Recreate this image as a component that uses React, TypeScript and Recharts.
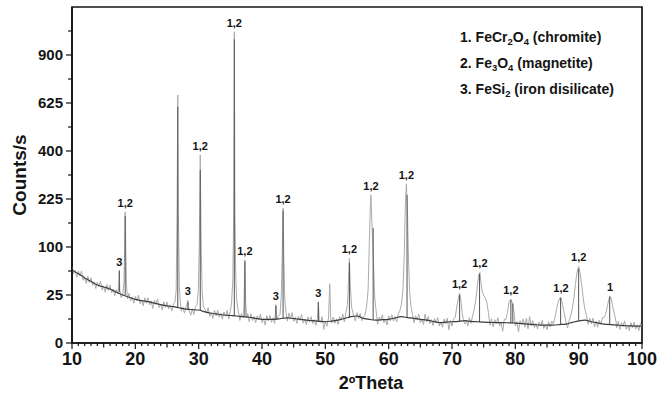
import { Line, LineChart, ReferenceArea, ReferenceDot, ReferenceLine, XAxis, YAxis } from "recharts";

// measured pattern, [2theta, counts/s]
const scan: [number, number][] = [
  [10, 64.3], [10.25, 52.1], [10.5, 57.3], [10.75, 47.1], [11, 56.4], [11.25, 49], [11.5, 56.3], [11.75, 42.8],
  [12, 46.6], [12.25, 38.3], [12.5, 48.2], [12.75, 39.7], [13, 46.2], [13.25, 36.1], [13.5, 40.6], [13.75, 32.3],
  [14, 40.2], [14.25, 34.7], [14.5, 41.5], [14.75, 30.6], [15, 34.6], [15.25, 27.9], [15.5, 37], [15.75, 29.9],
  [16, 36.2], [16.25, 27.5], [16.5, 31.5], [16.75, 24.2], [17, 31.2], [17.25, 26.2], [17.4, 36], [17.47, 57],
  [17.55, 30], [17.75, 22.3], [18, 25.5], [18.2, 40], [18.3, 90], [18.4, 187], [18.5, 95], [18.6, 38],
  [18.75, 21.3], [19, 26.6], [19.25, 19.4], [19.5, 23.1], [19.75, 17.2], [20, 23.5], [20.25, 19.5], [20.5, 24.9],
  [20.75, 16.8], [21, 20], [21.25, 15.1], [21.5, 22.2], [21.75, 17.1], [22, 22.1], [22.25, 15.7], [22.5, 19.2],
  [22.75, 12.9], [23, 19.8], [23.25, 16.1], [23.5, 21], [23.75, 13.6], [24, 16.4], [24.25, 12], [24.5, 18.4],
  [24.75, 13.7], [25, 18.2], [25.25, 12.6], [25.5, 15.8], [25.75, 11.2], [26, 16.6], [26.25, 18], [26.45, 30],
  [26.6, 200], [26.7, 667], [26.8, 180], [26.95, 35], [27.1, 18], [27.25, 11], [27.5, 14], [27.75, 9.7],
  [28, 14.7], [28.15, 16], [28.3, 20], [28.45, 12], [28.75, 8.4], [29, 12.5], [29.25, 8.8], [29.5, 14.5],
  [29.75, 16], [29.95, 30], [30.1, 110], [30.25, 384], [30.4, 100], [30.55, 28], [30.75, 14], [31, 12.5],
  [31.25, 9.6], [31.5, 13.5], [31.75, 7.7], [32, 9.9], [32.25, 6.6], [32.5, 11.6], [32.75, 8], [33, 11.6],
  [33.25, 7.2], [33.5, 9.7], [33.75, 6.2], [34, 10.4], [34.25, 7.8], [34.5, 11.5], [34.75, 6.4], [35, 11],
  [35.2, 18], [35.4, 45], [35.52, 180], [35.63, 1051], [35.72, 200], [35.85, 50], [36, 20], [36.25, 11],
  [36.5, 5.5], [36.75, 9.4], [37, 7], [37.15, 14], [37.3, 75], [37.42, 18], [37.6, 7], [37.75, 9.3],
  [38, 4.8], [38.25, 9.3], [38.5, 5.4], [38.75, 7.6], [39, 4.5], [39.25, 8.1], [39.5, 5.9], [39.75, 9],
  [40, 4.5], [40.25, 6.4], [40.5, 3.5], [40.75, 8], [41, 5.2], [41.25, 8.2], [41.5, 4.7], [41.75, 6.9],
  [42, 4.1], [42.2, 16], [42.35, 6], [42.6, 7.8], [42.85, 9], [43.05, 25], [43.2, 90], [43.33, 197],
  [43.45, 80], [43.6, 20], [43.8, 10], [44, 5.2], [44.25, 9.7], [44.5, 6.2], [44.75, 10], [45, 5.1],
  [45.25, 7.2], [45.5, 4.2], [45.75, 7.8], [46, 5.6], [46.25, 8.7], [46.5, 4.3], [46.75, 6.1], [47, 3.6],
  [47.25, 7.4], [47.5, 4.7], [47.75, 7.5], [48, 4.1], [48.25, 6], [48.5, 3.4], [48.75, 6.6], [48.9, 18.5],
  [49.05, 5], [49.25, 4.6], [49.5, 7.5], [49.75, 2], [50, 5.1], [50.25, 3], [50.5, 6.8], [50.7, 38],
  [50.85, 6], [51, 4.3], [51.25, 7.3], [51.5, 4.2], [51.75, 6.3], [52, 3.8], [52.25, 7.5], [52.5, 5.6],
  [52.75, 9.1], [53, 4.8], [53.25, 10], [53.5, 16], [53.65, 40], [53.8, 78], [53.95, 35], [54.15, 14],
  [54.4, 9], [54.75, 5.2], [55, 10], [55.25, 6.5], [55.5, 9.5], [55.75, 5.4], [56, 7.4], [56.25, 8],
  [56.5, 14], [56.75, 30], [56.95, 110], [57.1, 200], [57.2, 238], [57.3, 180], [57.45, 120], [57.6, 70],
  [57.8, 22], [58, 12], [58.25, 3.8], [58.5, 7.3], [58.75, 5.4], [59, 8.6], [59.25, 4.4], [59.5, 6.3],
  [59.75, 3.5], [60, 8], [60.25, 5.3], [60.5, 8.6], [60.75, 5.2], [61, 7.6], [61.25, 4.8], [61.5, 8.9],
  [61.75, 11], [62, 16], [62.25, 30], [62.45, 80], [62.65, 220], [62.8, 275], [62.95, 200], [63.1, 90],
  [63.3, 30], [63.5, 15], [63.75, 9], [64, 4.5], [64.25, 8.1], [64.5, 5.9], [64.75, 9], [65, 4.5],
  [65.25, 6.3], [65.5, 3.7], [65.75, 9.1], [66, 4.8], [66.25, 7.6], [66.5, 4.1], [66.75, 6], [67, 3.3],
  [67.25, 6.4], [67.5, 4.4], [67.75, 7], [68, 3.1], [68.25, 4.8], [68.5, 2.7], [68.75, 6.3], [69, 3.9],
  [69.25, 6.7], [69.5, 1.9], [69.75, 5.5], [70, 3.1], [70.25, 6.4], [70.5, 7], [70.75, 14], [71, 22],
  [71.2, 27], [71.4, 20], [71.6, 10], [71.8, 6], [72, 3.9], [72.25, 5.5], [72.5, 3.2], [72.75, 6.9],
  [73, 4.2], [73.25, 8], [73.5, 12], [73.75, 20], [74, 35], [74.2, 50], [74.4, 54], [74.6, 38],
  [74.8, 28], [75, 25], [75.25, 22], [75.5, 18], [75.75, 10], [76, 3.4], [76.25, 6.4], [76.5, 2.8],
  [76.75, 5.9], [77, 4.1], [77.25, 6.9], [77.5, 3.1], [77.75, 4.7], [78, 1.5], [78.25, 6.1], [78.5, 6],
  [78.75, 10], [79, 18], [79.3, 21], [79.55, 17], [79.8, 10], [80, 3.1], [80.25, 4.9], [80.5, 1.3],
  [80.75, 5.4], [81, 3.7], [81.25, 6.3], [81.5, 2.7], [81.75, 6.7], [82, 2.2], [82.25, 7.6], [82.5, 3.1],
  [82.75, 5.4], [83, 2.6], [83.25, 4.2], [83.5, 2.1], [83.75, 4.8], [84, 3.1], [84.25, 5.6], [84.5, 2.3],
  [84.75, 3.7], [85, 1.9], [85.25, 4.9], [85.5, 2.8], [85.75, 5.2], [86, 4], [86.25, 7], [86.5, 12],
  [86.75, 18], [87, 22], [87.2, 22.7], [87.45, 16], [87.7, 10], [88, 5], [88.25, 2.4], [88.5, 5.5],
  [88.75, 8], [89, 13], [89.25, 22], [89.5, 38], [89.75, 55], [90, 64], [90.25, 52], [90.5, 35],
  [90.75, 20], [91, 12], [91.25, 8], [91.5, 3.8], [91.75, 6.6], [92, 4], [92.25, 6.7], [92.5, 2.8],
  [92.75, 5.2], [93, 2.7], [93.25, 5.6], [93.5, 3.8], [93.75, 7], [94, 7], [94.25, 9], [94.5, 14],
  [94.75, 20], [94.95, 24], [95.15, 21], [95.4, 14], [95.65, 9], [95.9, 5], [96, 2.5], [96.25, 5.1],
  [96.5, 2], [96.75, 4.5], [97, 3], [97.25, 5.3], [97.5, 2.1], [97.75, 3.4], [98, 1.7], [98.25, 4.5],
  [98.5, 2.5], [98.75, 4.7], [99, 2.1], [99.25, 3.6], [99.5, 1.7], [99.75, 4.2], [100, 2.8],
];

// fitted background curve
const background: [number, number][] = [
  [10, 58], [11, 52], [12, 46], [13, 41], [14, 36.5], [15, 34], [16, 31.6], [17, 28], [18, 25],
  [19, 22.7], [20, 20.7], [21, 19.5], [22, 18.5], [23, 17.2], [24, 16], [25, 15], [26, 14.3],
  [27, 13.3], [28, 12.5], [29, 12.1], [30, 11.8], [31, 10.5], [32, 9.6], [33, 9], [34, 8.5],
  [35, 8.2], [36, 7.9], [37, 7.5], [38, 7.2], [39, 6.6], [40, 6.1], [41, 6.1], [42, 6.1],
  [43, 6.5], [44, 6.9], [45, 6.5], [46, 6.1], [47, 5.7], [48, 5.4], [49, 5.1], [50, 4.9],
  [51, 5.2], [52, 5.7], [53, 6.5], [54, 7.5], [55, 7.9], [56, 6.6], [57, 6], [58, 5.7],
  [59, 5.9], [60, 6.1], [61, 6.8], [62, 7.5], [63, 7], [64, 6.6], [65, 6.1], [66, 5.7],
  [67, 5.1], [68, 4.5], [69, 4.7], [70, 4.9], [71, 5.1], [72, 5.4], [73, 5.1], [74, 4.9],
  [75, 4.7], [76, 4.6], [77, 4.5], [78, 4.5], [79, 4.4], [80, 4.3], [81, 4.1], [82, 3.9],
  [83, 3.7], [84, 3.5], [85, 3.5], [86, 3.5], [87, 3.7], [88, 3.9], [89, 4.6], [90, 5.3],
  [91, 5.7], [92, 4.9], [93, 4.4], [94, 3.9], [95, 3.7], [96, 3.5], [97, 3.3], [98, 3.2],
  [99, 3.1], [100, 3.1],
];

// peak markers: [2theta, base, top]
const sticks: [number, number, number][] = [
  [17.47, 28, 57], [18.4, 25, 175], [26.7, 14, 606], [28.3, 12.5, 18], [30.25, 11.5, 325],
  [35.63, 8, 1000], [37.3, 7.5, 72], [42.2, 6.1, 15], [43.33, 6.6, 190], [48.9, 5.1, 18],
  [53.8, 7.3, 70], [57.55, 5.9, 143], [62.9, 7.2, 238], [71.2, 5.1, 25], [74.35, 4.8, 52],
  [79.3, 4.4, 20], [79.6, 4.4, 17], [87.15, 3.7, 22], [90, 5.3, 60], [94.9, 3.7, 23],
];

const peakLabels: [number, number, string][] = [
  [17.47, 57, "3"], [18.4, 187, "1,2"], [28.3, 20, "3"], [30.25, 384, "1,2"], [35.63, 1051, "1,2"],
  [37.3, 75, "1,2"], [42.2, 16, "3"], [43.33, 197, "1,2"], [48.9, 18.5, "3"], [53.8, 78, "1,2"],
  [57.2, 238, "1,2"], [62.8, 275, "1,2"], [71.2, 27, "1,2"], [74.4, 54, "1,2"], [79.3, 21, "1,2"],
  [87.2, 22.7, "1,2"], [90, 64, "1,2"], [94.95, 24, "1"],
];

const yMajorTicks = [0, 25, 100, 225, 400, 625, 900];
const yMinorTicks = [6.25, 56.25, 156.25, 306.25, 506.25, 756.25, 1056.25];
const xLabelTicks = [10, 20, 30, 40, 50, 60, 70, 80, 90, 100];
const xTicks = Array.from({ length: 91 }, (_, i) => 10 + i);

const phases = [
  { num: "1.", parts: ["FeCr", "2", "O", "4", " (chromite)"] },
  { num: "2.", parts: ["Fe", "3", "O", "4", " (magnetite)"] },
  { num: "3.", parts: ["FeSi", "2", " (iron disilicate)"] },
];

const ink = "#141414";
const font = "Arial, 'Liberation Sans', Helvetica, sans-serif";

const scanRows = scan.map(([x, y]) => ({ x, y }));
const bgRows = background.map(([x, y]) => ({ x, y }));

function YTick({ x, y, payload }: any) {
  const major = yMajorTicks.includes(payload.value);
  return (
    <g>
      <line x1={x - (major ? 6 : 4)} x2={x} y1={y} y2={y} stroke={ink} strokeWidth={1.2} />
      {major && (
        <text x={x - 9} y={y + 5} textAnchor="end" fontSize={15} fontWeight="bold" fill={ink} fontFamily={font}>
          {payload.value}
        </text>
      )}
    </g>
  );
}

function XTick({ x, y, payload }: any) {
  const v = payload.value;
  const major = xLabelTicks.includes(v);
  const len = major ? 6 : v % 5 === 0 ? 4.5 : 3;
  return (
    <g>
      <line x1={x} x2={x} y1={y} y2={y + len} stroke={ink} strokeWidth={1.2} />
      {major && (
        <text x={x} y={y + 22} textAnchor="middle" fontSize={18} fontWeight="bold" fill={ink} fontFamily={font}>
          {v}
        </text>
      )}
    </g>
  );
}

export default function App() {
  return (
    <div style={{ position: "relative", width: 658, height: 397, background: "#fff", fontFamily: font }}>
      <style>{`body{margin:0}`}</style>
      <LineChart width={658} height={397} margin={{ top: 7, right: 16, bottom: 0, left: 0 }}>
        {/* plot frame */}
        <ReferenceArea
          x1={10}
          x2={100}
          y1={0}
          y2={1225}
          fill="none"
          fillOpacity={0}
          stroke={ink}
          strokeWidth={1.7}
          ifOverflow="visible"
        />
        <XAxis
          dataKey="x"
          type="number"
          domain={[10, 100]}
          allowDataOverflow
          ticks={xTicks}
          interval={0}
          tick={<XTick />}
          tickLine={false}
          tickSize={0}
          tickMargin={0}
          height={54}
          axisLine={{ stroke: ink, strokeWidth: 1.6 }}
          label={{
            content: ({ viewBox }: any) => (
              <text
                x={viewBox.x + viewBox.width / 2 + 14}
                y={viewBox.y + 46}
                textAnchor="middle"
                fontSize={18}
                fontWeight="bold"
                fill={ink}
                fontFamily={font}
              >
                2ºTheta
              </text>
            ),
          }}
        />
        <YAxis
          type="number"
          scale="sqrt"
          domain={[0, 1225]}
          allowDataOverflow
          ticks={[...yMajorTicks, ...yMinorTicks]}
          interval={0}
          tick={<YTick />}
          tickLine={false}
          tickSize={0}
          tickMargin={0}
          width={72}
          axisLine={{ stroke: ink, strokeWidth: 1.6 }}
          label={{
            content: ({ viewBox }: any) => {
              const cy = viewBox.y + viewBox.height / 2;
              return (
                <text
                  x={19}
                  y={cy}
                  transform={`rotate(-90, 19, ${cy})`}
                  textAnchor="middle"
                  dominantBaseline="central"
                  fontSize={19}
                  fontWeight="bold"
                  fill={ink}
                  fontFamily={font}
                >
                  Counts/s
                </text>
              );
            },
          }}
        />
        <Line
          data={scanRows}
          dataKey="y"
          type="linear"
          stroke="#ababab"
          strokeWidth={1}
          dot={false}
          isAnimationActive={false}
        />
        {sticks.map(([t, base, top]) => (
          <ReferenceLine
            key={`s${t}`}
            segment={[
              { x: t, y: base },
              { x: t, y: top },
            ]}
            stroke="#525252"
            strokeWidth={1}
            ifOverflow="visible"
          />
        ))}
        <Line
          data={bgRows}
          dataKey="y"
          type="monotone"
          stroke="#3c3c3c"
          strokeWidth={1.2}
          dot={false}
          isAnimationActive={false}
        />
        {peakLabels.map(([t, v, text]) => (
          <ReferenceDot
            key={`l${t}`}
            x={t}
            y={v}
            r={0}
            fill="none"
            stroke="none"
            ifOverflow="visible"
            label={{ value: text, position: "top", offset: 5, fontSize: 11, fontWeight: "bold", fill: ink, fontFamily: font }}
          />
        ))}
      </LineChart>
      <div
        style={{
          position: "absolute",
          left: 460,
          top: 25,
          fontSize: 14,
          lineHeight: "24px",
          fontWeight: "bold",
          color: ink,
          whiteSpace: "nowrap",
        }}
      >
        {phases.map((p) => (
          <div key={p.num}>
            {p.num}{" "}
            {p.parts.map((s, i) =>
              /^\d$/.test(s) ? (
                <span key={i} style={{ fontSize: 9.5, position: "relative", top: 3 }}>
                  {s}
                </span>
              ) : (
                <span key={i}>{s}</span>
              )
            )}
          </div>
        ))}
      </div>
    </div>
  );
}
